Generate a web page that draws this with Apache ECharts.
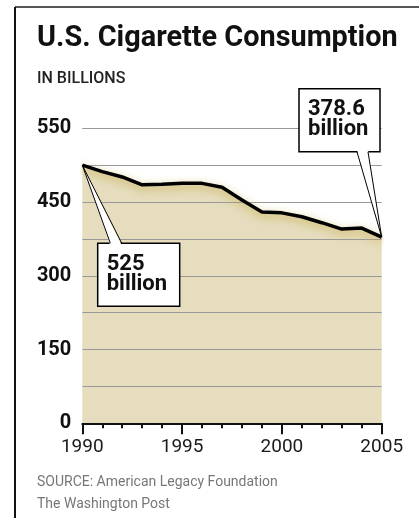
<!DOCTYPE html>
<html><head><meta charset="utf-8">
<script src="https://cdn.jsdelivr.net/npm/echarts@6/dist/echarts.min.js"></script>
<style>html,body{margin:0;padding:0;background:#fff}#c{width:419px;height:518px}</style>
</head><body><div id="c"></div>
<script>
const years = [1990,1991,1992,1993,1994,1995,1996,1997,1998,1999,2000,2001,2002,2003,2004,2005];
const consumption = [525,512,501,485,486,488,488,480,454,430,428,420,408,395,397,378.6];
const yTickValues = [0,150,300,450,600];
const yTickLabels = ['0','150','300','450','550'];
const xTickLabels = ['1990','1995','2000','2005'];
const titleText = 'U.S. Cigarette Consumption';
const subtitleText = 'IN BILLIONS';
const sourceLines = ['SOURCE: American Legacy Foundation','The Washington Post'];
const unitWord = 'billion';

const chart = echarts.init(document.getElementById('c'), null, {renderer:'canvas'});
const pts = years.map((y,i)=>[y, consumption[i]]);
chart.setOption({
  animation:false,
  grid:{left:82.3, right:37.3, top:128.3, bottom:94.7},
  xAxis:{type:'value', min:1990, max:2005, interval:5, z:4,
    axisLine:{show:true, onZero:false, lineStyle:{color:'#111', width:2}},
    axisTick:{show:true, length:11, lineStyle:{color:'#111', width:2}},
    minorTick:{show:true, splitNumber:5, length:5, lineStyle:{color:'#111', width:2}},
    splitLine:{show:false},
    axisLabel:{margin:14, fontFamily:'Roboto', fontSize:19, color:'#1a1a1a',
      formatter: v => { const i = xTickLabels.indexOf(String(v)); return i>=0 ? xTickLabels[i] : ''; }}
  },
  yAxis:{type:'value', min:0, max:600, interval:75, z:3,
    axisLine:{show:false}, axisTick:{show:false},
    splitLine:{show:true, lineStyle:{color:'#999', width:1}},
    axisLabel:{margin:11, fontFamily:'Roboto', fontWeight:'bold', fontSize:20, color:'#111',
      formatter: v => { const i = yTickValues.indexOf(v); return i>=0 ? yTickLabels[i] : ''; }}
  },
  series:[
    {type:'line', data:pts, z:1, symbol:'none', silent:true, lineStyle:{opacity:0}, areaStyle:{color:'#e5ddbe', opacity:1}},
    {type:'line', data:pts, z:5, symbol:'none', lineStyle:{color:'#000', width:3.5, shadowColor:'rgba(200,170,70,0.9)', shadowBlur:8, shadowOffsetY:3}}
  ]
});

const p1 = chart.convertToPixel({gridIndex:0}, pts[0]);
const p2 = chart.convertToPixel({gridIndex:0}, pts[pts.length-1]);

function callout(tip, bx, by, bw, bh, xa, xb, yb, text){
  const els = [];
  els.push({type:'rect', z:10, shape:{x:bx, y:by, width:bw, height:bh}, style:{fill:'#fff', stroke:'#000', lineWidth:1.5}});
  const dir = yb > tip[1] ? 2 : -2;
  els.push({type:'polygon', z:11, shape:{points:[tip, [xa, yb+dir], [xb, yb+dir]]}, style:{fill:'#fff', stroke:null}});
  els.push({type:'line', z:12, shape:{x1:tip[0], y1:tip[1], x2:xa, y2:yb}, style:{stroke:'#000', lineWidth:1}});
  els.push({type:'line', z:12, shape:{x1:tip[0], y1:tip[1], x2:xb, y2:yb}, style:{stroke:'#000', lineWidth:1}});
  els.push({type:'text', z:13, x:bx+9, y:by+11, style:{text:text, font:'bold 22px Roboto', fill:'#111', lineHeight:20, verticalAlign:'top'}});
  return els;
}

const graphics = [
  {type:'line', shape:{x1:15, y1:7, x2:419, y2:7}, style:{stroke:'#555', lineWidth:2}},
  {type:'line', shape:{x1:15, y1:7, x2:15, y2:518}, style:{stroke:'#111', lineWidth:2}},
  {type:'text', x:37, y:38.5, scaleX:0.995, style:{text:titleText, font:'bold 29px Roboto', fill:'#111', verticalAlign:'middle'}},
  {type:'text', x:37, y:79, style:{text:subtitleText, font:'500 16px Roboto', fill:'#222', verticalAlign:'middle'}},
  {type:'text', x:37, y:482, style:{text:sourceLines[0], font:'14px Roboto', fill:'#777', verticalAlign:'middle'}},
  {type:'text', x:37, y:504.5, style:{text:sourceLines[1], font:'14px Roboto', fill:'#777', verticalAlign:'middle'}}
].concat(
  callout(p1, p1[0]+15.4, p1[1]+78, 82, 63, p1[0]+28, p1[0]+39.4, p1[1]+78, consumption[0] + '\n' + unitWord),
  callout(p2, p2[0]-82.7, p2[1]-148.3, 81, 63, p2[0]-24.7, p2[0]-13.7, p2[1]-85.3, consumption[consumption.length-1] + '\n' + unitWord)
);
chart.setOption({graphic: graphics});
</script>
</body></html>
